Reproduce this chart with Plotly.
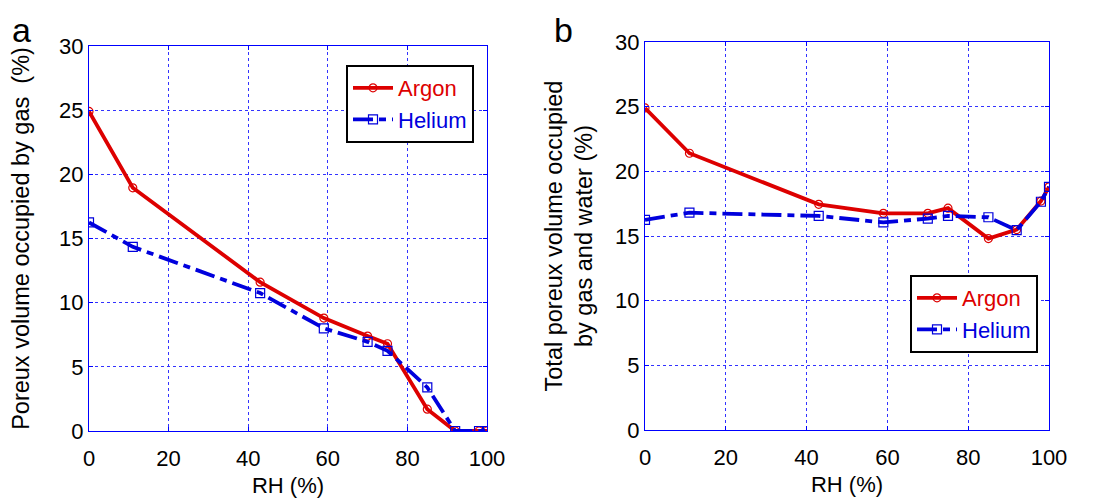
import plotly.graph_objects as go

rh = [0, 11, 43, 59, 70, 75, 85, 92, 98, 100]

argon_gas = [24.9, 18.95, 11.6, 8.8, 7.4, 6.8, 1.7, 0, 0, 0]
helium_gas = [16.25, 14.35, 10.75, 8.0, 6.95, 6.25, 3.4, 0, 0, 0]

argon_total = [24.9, 21.4, 17.45, 16.75, 16.75, 17.15, 14.8, 15.5, 17.7, 18.8]
helium_total = [16.25, 16.8, 16.55, 16.05, 16.35, 16.55, 16.45, 15.45, 17.65, 18.8]

x_ticks = [0, 20, 40, 60, 80, 100]
y_ticks = [0, 5, 10, 15, 20, 25, 30]

RED = "#dd0000"
BLUE = "#0000dd"
FONT = "Liberation Sans, Arial, sans-serif"

fig = go.Figure()

def add_pair(xa, ya, argon, helium, legend):
    fig.add_trace(go.Scatter(
        x=rh, y=argon, mode="lines+markers",
        name="<span style='color:%s'>Argon</span>" % RED,
        line=dict(color=RED, width=3.8),
        marker=dict(symbol="circle-open", size=8, color=RED, line=dict(width=1.2, color=RED)),
        xaxis=xa, yaxis=ya, legend=legend,
    ))
    fig.add_trace(go.Scatter(
        x=rh, y=helium, mode="lines+markers",
        name="<span style='color:%s'>Helium</span>" % BLUE,
        line=dict(color=BLUE, width=3.8, dash="20px,6px,7px,6px"),
        marker=dict(symbol="square-open", size=9, color=BLUE, line=dict(width=1.2, color=BLUE)),
        xaxis=xa, yaxis=ya, legend=legend,
    ))

add_pair("x", "y", argon_gas, helium_gas, "legend")
add_pair("x2", "y2", argon_total, helium_total, "legend2")

axis_common = dict(
    showline=True, linecolor="#0000ff", linewidth=1, mirror="ticks",
    ticks="inside", ticklen=4, tickcolor="#0000ff", automargin=False,
    showgrid=True, gridcolor="#3333ff", griddash="dot", gridwidth=1,
    zeroline=False, tickfont=dict(family=FONT, size=22, color="black"),
)

# page body has an 8px margin: convert screen pixels to figure pixels
OFF = 8
W, H = 1099 - OFF, 502 - OFF
def dx(a, b):
    return [(a - OFF) / W, (b - OFF) / W]
def dy(top, bottom):
    return [1 - (bottom - OFF) / H, 1 - (top - OFF) / H]
def px(x):
    return (x - OFF) / W
def py(y):
    return 1 - (y - OFF) / H

fig.update_layout(
    width=W, height=H,
    margin=dict(l=0, r=0, t=0, b=0),
    plot_bgcolor="white", paper_bgcolor="white",
    font=dict(family=FONT, color="black"),
    xaxis=dict(domain=dx(89, 487), range=[0, 100], tickvals=x_ticks, anchor="y", ticklabelstandoff=8,
               title=dict(text="RH (%)", font=dict(size=22), standoff=7), **axis_common),
    yaxis=dict(domain=dy(46, 431), range=[0, 30], tickvals=y_ticks, anchor="x",
               title=dict(text="Poreux volume occupied by gas\u00a0\u00a0(%)", font=dict(size=23.5), standoff=24),
               **axis_common),
    xaxis2=dict(domain=dx(645, 1049), range=[0, 100], tickvals=x_ticks, anchor="y2", ticklabelstandoff=8,
                title=dict(text="RH (%)", font=dict(size=22), standoff=7), **axis_common),
    yaxis2=dict(domain=dy(42, 430), range=[0, 30], tickvals=y_ticks, anchor="x2",
                title=dict(text="Total poreux volume occupied<br>by gas and water (%)", font=dict(size=23.5), standoff=15),
                **axis_common),
    legend=dict(x=px(346), y=py(65), xanchor="left", yanchor="top",
                bordercolor="black", borderwidth=2, bgcolor="white",
                font=dict(family=FONT, size=22), itemwidth=40, tracegroupgap=0),
    legend2=dict(x=px(910), y=py(275), xanchor="left", yanchor="top",
                 bordercolor="black", borderwidth=2, bgcolor="white",
                 font=dict(family=FONT, size=22), itemwidth=40, tracegroupgap=0),
    showlegend=True,
)

fig.add_annotation(text="a", x=px(21), y=py(8.5), xref="paper", yref="paper",
                   xanchor="center", yanchor="top",
                   showarrow=False, font=dict(family=FONT, size=34, color="black"))
fig.add_annotation(text="b", x=px(563), y=py(8.5), xref="paper", yref="paper",
                   xanchor="center", yanchor="top",
                   showarrow=False, font=dict(family=FONT, size=34, color="black"))

fig.write_html("out.html")
